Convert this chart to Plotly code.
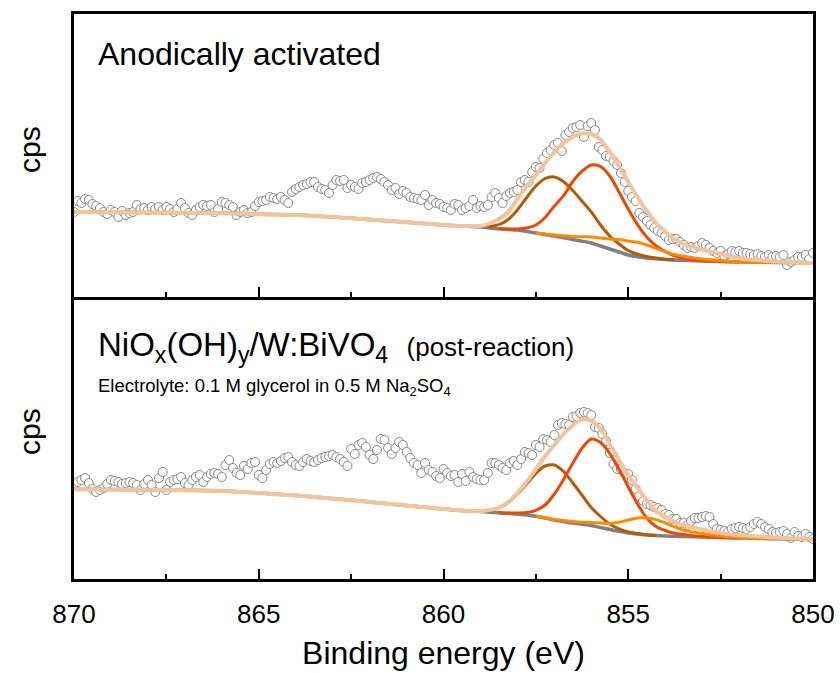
import numpy as np
import plotly.graph_objects as go

# ---------------- data ----------------
energy = np.round(np.linspace(870.0, 850.0, 201), 1)  # binding energy grid (eV), 0.1 eV step

top_counts = [85, 96, 94, 98, 97, 93, 91, 89, 85, 83, 87, 85, 80, 86, 82, 84, 85, 92, 88, 89,
              87, 90, 88, 90, 87, 90, 88, 85, 88, 94, 89, 84, 82, 87, 90, 92, 91, 92, 85, 88,
              95, 94, 92, 90, 82, 85, 87, 84, 85, 91, 95, 96, 97, 100, 99, 98, 100, 97, 94, 105,
              108, 110, 112, 113, 115, 115, 110, 108, 107, 104, 112, 117, 116, 117, 109, 112, 110, 108, 114, 115,
              117, 119, 120, 118, 115, 112, 107, 109, 103, 106, 104, 100, 99, 98, 97, 102, 92, 97, 94, 93,
              90, 89, 87, 93, 92, 87, 89, 91, 97, 89, 91, 90, 92, 100, 104, 99, 94, 101, 104, 105,
              107, 115, 117, 115, 125, 130, 129, 138, 144, 147, 152, 154, 146, 162, 165, 169, 170, 172, 160, 171,
              174, 167, 150, 147, 141, 140, 136, 132, 124, 115, 106, 100, 96, 84, 80, 76, 72, 69, 66, 64,
              61, 57, 58, 58, 55, 52, 49, 50, 49, 51, 54, 52, 49, 46, 44, 46, 41, 43, 46, 45,
              46, 44, 44, 43, 42, 43, 41, 40, 42, 40, 41, 40, 42, 32, 35, 37, 40, 40, 42, 38,
              44]

bottom_counts = [94, 97, 99, 101, 96, 90, 87, 89, 91, 95, 99, 98, 97, 95, 96, 97, 96, 94, 89, 95,
                 99, 94, 87, 101, 107, 89, 97, 99, 100, 102, 96, 94, 99, 102, 104, 97, 102, 105, 106, 105,
                 102, 114, 119, 111, 106, 104, 113, 110, 116, 117, 104, 101, 109, 115, 117, 116, 118, 121, 122, 117,
                 114, 113, 117, 120, 118, 117, 119, 121, 122, 123, 124, 122, 120, 117, 113, 130, 125, 134, 136, 132,
                 124, 120, 129, 140, 139, 131, 125, 131, 137, 134, 127, 121, 116, 114, 106, 116, 109, 107, 103, 101,
                 110, 106, 103, 104, 97, 105, 98, 107, 102, 100, 99, 99, 106, 116, 116, 114, 111, 109, 116, 118,
                 114, 120, 127, 126, 124, 134, 132, 140, 139, 137, 144, 154, 156, 155, 154, 162, 163, 166, 167, 166,
                 164, 152, 151, 145, 138, 126, 115, 110, 110, 106, 105, 99, 90, 83, 78, 75, 74, 72, 71, 69,
                 65, 64, 60, 60, 56, 56, 54, 58, 61, 61, 62, 63, 62, 55, 50, 49, 48, 47, 50, 51,
                 52, 51, 50, 52, 55, 57, 55, 52, 50, 47, 46, 47, 48, 45, 41, 47, 43, 42, 45, 42,
                 40]

fit_energy = [870, 868, 866, 864, 862, 860, 859.5, 859, 858.75, 858.5, 858.25, 858, 857.75, 857.5,
              857.25, 857, 856.75, 856.5, 856.25, 856, 855.75, 855.5, 855.25, 855, 854.75, 854.5,
              854.25, 854, 853.75, 853.5, 853, 852.5, 852, 851, 850]

# top panel (anodically activated)
top_background = [85, 84.5, 83.7, 82, 77.5, 72, 71, 70, 69, 68.3, 67.5, 67, 65.5, 64,
                  62.5, 61, 59.3, 57.5, 55.8, 54, 51, 48, 45, 42, 40.3, 39,
                  38.2, 37.5, 37.1, 36.7, 36, 35.5, 35, 34.6, 34.3]
top_envelope = [85, 84.5, 83.7, 82, 77.5, 72, 71, 71, 73.5, 78, 85, 98, 111, 122,
                134, 145, 154, 160, 163.5, 163, 157.5, 145, 131, 115, 100, 86,
                74, 65.5, 58, 53, 47.5, 43, 39, 35.5, 34]
top_peak_brown = [0, 0, 0, 0, 0, 0, 0, 0.5, 1.5, 4, 10, 20, 34, 47,
                  56, 59, 56, 49, 40, 31, 21, 13, 8, 4.5, 2.5, 1.5,
                  0.7, 0.3, 0, 0, 0, 0, 0, 0, 0]
top_peak_red = [0, 0, 0, 0, 0, 0, 0, 0, 0, 0, 0.5, 1, 3.5, 8,
                17, 30, 42, 58, 70, 78, 79.5, 73, 60, 46, 32, 21,
                13, 8, 4, 2, 0.5, 0.1, 0, 0, 0]
top_peak_orange = [0, 0, 0, 0, 0, 0, 0, 0, 0, 0, 0, 0, 0, 0,
                   0.5, 1, 2, 3, 4.5, 6, 8, 10, 12.5, 14, 14.5, 13,
                   10.5, 8, 5.5, 4, 2, 1, 0.3, 0, 0]

# bottom panel (post-reaction)
bot_background = [89.7, 89.3, 88, 83.5, 77, 70, 68.5, 67.5, 66.8, 66.2, 65.5, 65, 64, 62.7,
                  61, 59, 57.5, 56, 54.8, 53.5, 51.5, 49.5, 47.7, 46, 45, 44,
                  43.4, 43, 42.7, 42.4, 42, 41.5, 41, 40.2, 39.5]
bot_envelope = [89.7, 89.3, 88, 83.5, 77, 70, 68.5, 68, 69, 71.5, 77, 86, 97, 110,
                123, 134, 145, 154, 159.5, 158, 150, 135, 119, 104, 91, 79,
                68, 62, 57, 53.5, 49.5, 46, 44, 41.5, 39.5]
bot_peak_brown = [0, 0, 0, 0, 0, 0, 0, 0.5, 2, 5, 11, 20, 31, 43,
                  52, 55, 50, 40, 29, 18, 11, 5.5, 2.5, 1, 0.5, 0.2,
                  0, 0, 0, 0, 0, 0, 0, 0, 0]
bot_peak_red = [0, 0, 0, 0, 0, 0, 0, 0, 0, 0, 0.5, 1, 2.5, 6,
                13, 26, 42, 60, 76, 86.5, 85, 76, 62, 46, 30, 17,
                9, 5.5, 3, 2, 0.5, 0.1, 0, 0, 0]
bot_peak_orange = [0, 0, 0, 0, 0, 0, 0, 0, 0, 0, 0, 0, 0, 0,
                   0.3, 0.5, 1, 1.5, 2, 3, 4.5, 6, 9, 13, 16, 17,
                   16, 13, 9.5, 6.5, 3.5, 1.5, 0.5, 0, 0]

x_ticks = [870, 865, 860, 855, 850]
x_minor_ticks = [867.5, 862.5, 857.5, 852.5]

# ---------------- styles ----------------
C_ENV = "#F2C49E"
C_BG = "#808080"
C_RED = "#EC4A02"
C_BROWN = "#B35C05"
C_ORANGE = "#FF8A00"
FONT = "Liberation Sans, Arial, sans-serif"

fig = go.Figure()


def component(bg, peak):
    bg = np.asarray(bg, float)
    pk = np.asarray(peak, float)
    nz = np.nonzero(pk > 0)[0]
    lo, hi = max(nz[0] - 1, 0), min(nz[-1] + 1, len(pk) - 1)
    xs = np.asarray(fit_energy, float)[lo:hi + 1]
    return xs, (bg + pk)[lo:hi + 1]


def add_panel(counts, bg, env, brown, red, orange, xa, ya):
    fig.add_trace(go.Scatter(x=energy, y=counts, mode="markers", xaxis=xa, yaxis=ya,
                             marker=dict(symbol="circle", size=9, color="white",
                                         line=dict(color="#868686", width=1)),
                             showlegend=False, hoverinfo="skip"))
    fig.add_trace(go.Scatter(x=fit_energy, y=bg, mode="lines", xaxis=xa, yaxis=ya,
                             line=dict(color=C_BG, width=3.5, shape="spline", smoothing=0.8),
                             showlegend=False))
    for pk, col in ((brown, C_BROWN), (red, C_RED), (orange, C_ORANGE)):
        xs, ys = component(bg, pk)
        fig.add_trace(go.Scatter(x=xs, y=ys, mode="lines", xaxis=xa, yaxis=ya,
                                 line=dict(color=col, width=3, shape="spline", smoothing=0.8),
                                 showlegend=False))
    fig.add_trace(go.Scatter(x=fit_energy, y=env, mode="lines", xaxis=xa, yaxis=ya,
                             line=dict(color=C_ENV, width=4, shape="spline", smoothing=0.8),
                             showlegend=False))


add_panel(top_counts, top_background, top_envelope, top_peak_brown, top_peak_red,
          top_peak_orange, "x2", "y2")
add_panel(bottom_counts, bot_background, bot_envelope, bot_peak_brown, bot_peak_red,
          bot_peak_orange, "x", "y")

split = (579 - 297) / 565.0

xcommon = dict(range=[870, 850], tickmode="array", tickvals=x_ticks,
               ticks="inside", ticklen=10, tickwidth=2, tickcolor="black",
               minor=dict(tickmode="array", tickvals=x_minor_ticks,
                          ticks="inside", ticklen=5, tickwidth=2, tickcolor="black"),
               showline=True, linecolor="black", linewidth=2.5,
               showgrid=False, zeroline=False, automargin=False)
ycommon = dict(showticklabels=False, ticks="", showline=True, linecolor="black",
               linewidth=2.5, mirror=True, showgrid=False, zeroline=False, automargin=False)

fig.update_layout(
    width=840, height=673,
    margin=dict(l=74, r=27, t=14, b=94),
    paper_bgcolor="white", plot_bgcolor="white",
    font=dict(family=FONT, color="black"),
    xaxis=dict(**xcommon, anchor="y", domain=[0, 1], mirror=False,
               tickfont=dict(size=26, family=FONT), ticklabelstandoff=10,
               title=dict(text="Binding energy (eV)", font=dict(size=32, family=FONT), standoff=14)),
    yaxis=dict(**ycommon, domain=[0, split], range=[0, 282]),
    xaxis2=dict(**xcommon, anchor="y2", matches="x", mirror=True, showticklabels=False),
    yaxis2=dict(**ycommon, domain=[split, 1], range=[0, 283]),
    annotations=[
        dict(text="Anodically activated", xref="paper", yref="paper",
             x=(96 - 74) / 739, y=(579 - 54) / 565, xanchor="left", yanchor="middle",
             showarrow=False, font=dict(size=32, family=FONT)),
        dict(text="NiO<sub>x</sub>(OH)<sub>y</sub>/W:BiVO<sub>4</sub>&nbsp;&nbsp;"
                  "<span style='font-size:26px'>(post-reaction)</span>",
             xref="paper", yref="paper", x=(96 - 74) / 739, y=(579 - 347) / 565,
             xanchor="left", yanchor="middle", showarrow=False, font=dict(size=33, family=FONT)),
        dict(text="Electrolyte: 0.1 M glycerol in 0.5 M Na<sub>2</sub>SO<sub>4</sub>",
             xref="paper", yref="paper", x=(96 - 74) / 739, y=(579 - 387) / 565,
             xanchor="left", yanchor="middle", showarrow=False, font=dict(size=18.5, family=FONT)),
        dict(text="cps", xref="paper", yref="paper", x=(29 - 74) / 739, y=(579 - 150) / 565,
             xanchor="center", yanchor="middle", textangle=-90, showarrow=False,
             font=dict(size=30, family=FONT)),
        dict(text="cps", xref="paper", yref="paper", x=(29 - 74) / 739, y=(579 - 432) / 565,
             xanchor="center", yanchor="middle", textangle=-90, showarrow=False,
             font=dict(size=30, family=FONT)),
    ],
)

fig.write_html("out.html")
